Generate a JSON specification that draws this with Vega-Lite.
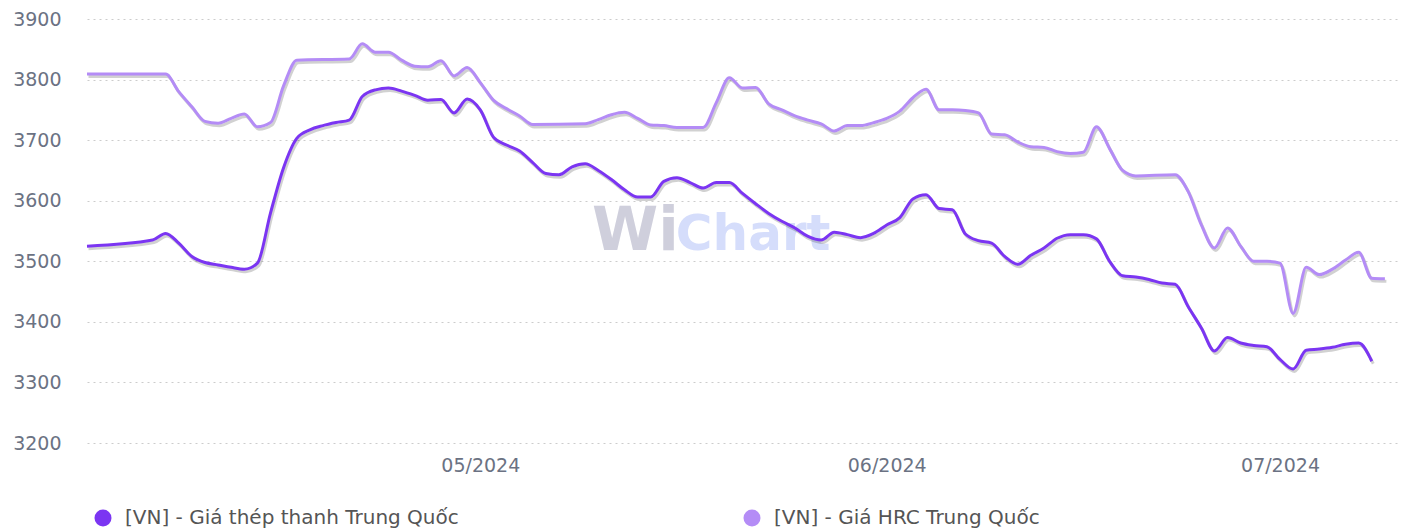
{
  "$schema": "https://vega.github.io/schema/vega-lite/v6.json",
  "width": 1311,
  "height": 424,
  "autosize": "none",
  "padding": {"left": 87, "top": 19, "right": 7, "bottom": 86},
  "background": "#ffffff",
  "config": {"view": {"stroke": null}},
  "datasets": {
    "wm1": [{"date": "2024-05-09T12:30:00Z", "value": 3519, "label": "Wi"}],
    "wm2": [{"date": "2024-05-15T22:00:00Z", "value": 3519, "label": "Chart"}],
    "prices": [
      {"date": "2024-04-01", "value": 3809, "series": "[VN] - Giá HRC Trung Quốc"},
      {"date": "2024-04-07", "value": 3809, "series": "[VN] - Giá HRC Trung Quốc"},
      {"date": "2024-04-08", "value": 3780, "series": "[VN] - Giá HRC Trung Quốc"},
      {"date": "2024-04-09", "value": 3755, "series": "[VN] - Giá HRC Trung Quốc"},
      {"date": "2024-04-10", "value": 3731, "series": "[VN] - Giá HRC Trung Quốc"},
      {"date": "2024-04-11", "value": 3728, "series": "[VN] - Giá HRC Trung Quốc"},
      {"date": "2024-04-12", "value": 3736, "series": "[VN] - Giá HRC Trung Quốc"},
      {"date": "2024-04-13", "value": 3743, "series": "[VN] - Giá HRC Trung Quốc"},
      {"date": "2024-04-14", "value": 3722, "series": "[VN] - Giá HRC Trung Quốc"},
      {"date": "2024-04-15", "value": 3729, "series": "[VN] - Giá HRC Trung Quốc"},
      {"date": "2024-04-16", "value": 3790, "series": "[VN] - Giá HRC Trung Quốc"},
      {"date": "2024-04-17", "value": 3832, "series": "[VN] - Giá HRC Trung Quốc"},
      {"date": "2024-04-21", "value": 3834, "series": "[VN] - Giá HRC Trung Quốc"},
      {"date": "2024-04-22", "value": 3859, "series": "[VN] - Giá HRC Trung Quốc"},
      {"date": "2024-04-23", "value": 3845, "series": "[VN] - Giá HRC Trung Quốc"},
      {"date": "2024-04-24", "value": 3845, "series": "[VN] - Giá HRC Trung Quốc"},
      {"date": "2024-04-25", "value": 3832, "series": "[VN] - Giá HRC Trung Quốc"},
      {"date": "2024-04-26", "value": 3822, "series": "[VN] - Giá HRC Trung Quốc"},
      {"date": "2024-04-27", "value": 3821, "series": "[VN] - Giá HRC Trung Quốc"},
      {"date": "2024-04-28", "value": 3831, "series": "[VN] - Giá HRC Trung Quốc"},
      {"date": "2024-04-29", "value": 3806, "series": "[VN] - Giá HRC Trung Quốc"},
      {"date": "2024-04-30", "value": 3820, "series": "[VN] - Giá HRC Trung Quốc"},
      {"date": "2024-05-01", "value": 3795, "series": "[VN] - Giá HRC Trung Quốc"},
      {"date": "2024-05-02", "value": 3766, "series": "[VN] - Giá HRC Trung Quốc"},
      {"date": "2024-05-03", "value": 3752, "series": "[VN] - Giá HRC Trung Quốc"},
      {"date": "2024-05-04", "value": 3740, "series": "[VN] - Giá HRC Trung Quốc"},
      {"date": "2024-05-05", "value": 3726, "series": "[VN] - Giá HRC Trung Quốc"},
      {"date": "2024-05-09", "value": 3727, "series": "[VN] - Giá HRC Trung Quốc"},
      {"date": "2024-05-10", "value": 3734, "series": "[VN] - Giá HRC Trung Quốc"},
      {"date": "2024-05-11", "value": 3742, "series": "[VN] - Giá HRC Trung Quốc"},
      {"date": "2024-05-12", "value": 3746, "series": "[VN] - Giá HRC Trung Quốc"},
      {"date": "2024-05-13", "value": 3736, "series": "[VN] - Giá HRC Trung Quốc"},
      {"date": "2024-05-14", "value": 3725, "series": "[VN] - Giá HRC Trung Quốc"},
      {"date": "2024-05-15", "value": 3724, "series": "[VN] - Giá HRC Trung Quốc"},
      {"date": "2024-05-16", "value": 3721, "series": "[VN] - Giá HRC Trung Quốc"},
      {"date": "2024-05-18", "value": 3721, "series": "[VN] - Giá HRC Trung Quốc"},
      {"date": "2024-05-19", "value": 3762, "series": "[VN] - Giá HRC Trung Quốc"},
      {"date": "2024-05-20", "value": 3803, "series": "[VN] - Giá HRC Trung Quốc"},
      {"date": "2024-05-21", "value": 3786, "series": "[VN] - Giá HRC Trung Quốc"},
      {"date": "2024-05-22", "value": 3787, "series": "[VN] - Giá HRC Trung Quốc"},
      {"date": "2024-05-23", "value": 3760, "series": "[VN] - Giá HRC Trung Quốc"},
      {"date": "2024-05-24", "value": 3750, "series": "[VN] - Giá HRC Trung Quốc"},
      {"date": "2024-05-25", "value": 3740, "series": "[VN] - Giá HRC Trung Quốc"},
      {"date": "2024-05-26", "value": 3733, "series": "[VN] - Giá HRC Trung Quốc"},
      {"date": "2024-05-27", "value": 3727, "series": "[VN] - Giá HRC Trung Quốc"},
      {"date": "2024-05-28", "value": 3715, "series": "[VN] - Giá HRC Trung Quốc"},
      {"date": "2024-05-29", "value": 3724, "series": "[VN] - Giá HRC Trung Quốc"},
      {"date": "2024-05-30", "value": 3724, "series": "[VN] - Giá HRC Trung Quốc"},
      {"date": "2024-05-31", "value": 3729, "series": "[VN] - Giá HRC Trung Quốc"},
      {"date": "2024-06-01", "value": 3736, "series": "[VN] - Giá HRC Trung Quốc"},
      {"date": "2024-06-02", "value": 3748, "series": "[VN] - Giá HRC Trung Quốc"},
      {"date": "2024-06-03", "value": 3770, "series": "[VN] - Giá HRC Trung Quốc"},
      {"date": "2024-06-04", "value": 3784, "series": "[VN] - Giá HRC Trung Quốc"},
      {"date": "2024-06-05", "value": 3750, "series": "[VN] - Giá HRC Trung Quốc"},
      {"date": "2024-06-06", "value": 3750, "series": "[VN] - Giá HRC Trung Quốc"},
      {"date": "2024-06-07", "value": 3749, "series": "[VN] - Giá HRC Trung Quốc"},
      {"date": "2024-06-08", "value": 3745, "series": "[VN] - Giá HRC Trung Quốc"},
      {"date": "2024-06-09", "value": 3710, "series": "[VN] - Giá HRC Trung Quốc"},
      {"date": "2024-06-10", "value": 3709, "series": "[VN] - Giá HRC Trung Quốc"},
      {"date": "2024-06-11", "value": 3697, "series": "[VN] - Giá HRC Trung Quốc"},
      {"date": "2024-06-12", "value": 3689, "series": "[VN] - Giá HRC Trung Quốc"},
      {"date": "2024-06-13", "value": 3688, "series": "[VN] - Giá HRC Trung Quốc"},
      {"date": "2024-06-14", "value": 3681, "series": "[VN] - Giá HRC Trung Quốc"},
      {"date": "2024-06-15", "value": 3678, "series": "[VN] - Giá HRC Trung Quốc"},
      {"date": "2024-06-16", "value": 3680, "series": "[VN] - Giá HRC Trung Quốc"},
      {"date": "2024-06-17", "value": 3722, "series": "[VN] - Giá HRC Trung Quốc"},
      {"date": "2024-06-18", "value": 3686, "series": "[VN] - Giá HRC Trung Quốc"},
      {"date": "2024-06-19", "value": 3650, "series": "[VN] - Giá HRC Trung Quốc"},
      {"date": "2024-06-20", "value": 3641, "series": "[VN] - Giá HRC Trung Quốc"},
      {"date": "2024-06-23", "value": 3643, "series": "[VN] - Giá HRC Trung Quốc"},
      {"date": "2024-06-24", "value": 3615, "series": "[VN] - Giá HRC Trung Quốc"},
      {"date": "2024-06-25", "value": 3560, "series": "[VN] - Giá HRC Trung Quốc"},
      {"date": "2024-06-26", "value": 3522, "series": "[VN] - Giá HRC Trung Quốc"},
      {"date": "2024-06-27", "value": 3555, "series": "[VN] - Giá HRC Trung Quốc"},
      {"date": "2024-06-28", "value": 3525, "series": "[VN] - Giá HRC Trung Quốc"},
      {"date": "2024-06-29", "value": 3500, "series": "[VN] - Giá HRC Trung Quốc"},
      {"date": "2024-06-30", "value": 3500, "series": "[VN] - Giá HRC Trung Quốc"},
      {"date": "2024-07-01", "value": 3497, "series": "[VN] - Giá HRC Trung Quốc"},
      {"date": "2024-07-02", "value": 3414, "series": "[VN] - Giá HRC Trung Quốc"},
      {"date": "2024-07-03", "value": 3490, "series": "[VN] - Giá HRC Trung Quốc"},
      {"date": "2024-07-04", "value": 3478, "series": "[VN] - Giá HRC Trung Quốc"},
      {"date": "2024-07-05", "value": 3487, "series": "[VN] - Giá HRC Trung Quốc"},
      {"date": "2024-07-06", "value": 3502, "series": "[VN] - Giá HRC Trung Quốc"},
      {"date": "2024-07-07", "value": 3515, "series": "[VN] - Giá HRC Trung Quốc"},
      {"date": "2024-07-08", "value": 3472, "series": "[VN] - Giá HRC Trung Quốc"},
      {"date": "2024-07-09", "value": 3471, "series": "[VN] - Giá HRC Trung Quốc"},
      {"date": "2024-04-01", "value": 3525, "series": "[VN] - Giá thép thanh Trung Quốc"},
      {"date": "2024-04-06", "value": 3535, "series": "[VN] - Giá thép thanh Trung Quốc"},
      {"date": "2024-04-07", "value": 3546, "series": "[VN] - Giá thép thanh Trung Quốc"},
      {"date": "2024-04-08", "value": 3530, "series": "[VN] - Giá thép thanh Trung Quốc"},
      {"date": "2024-04-09", "value": 3508, "series": "[VN] - Giá thép thanh Trung Quốc"},
      {"date": "2024-04-10", "value": 3498, "series": "[VN] - Giá thép thanh Trung Quốc"},
      {"date": "2024-04-11", "value": 3494, "series": "[VN] - Giá thép thanh Trung Quốc"},
      {"date": "2024-04-12", "value": 3490, "series": "[VN] - Giá thép thanh Trung Quốc"},
      {"date": "2024-04-13", "value": 3487, "series": "[VN] - Giá thép thanh Trung Quốc"},
      {"date": "2024-04-14", "value": 3497, "series": "[VN] - Giá thép thanh Trung Quốc"},
      {"date": "2024-04-15", "value": 3580, "series": "[VN] - Giá thép thanh Trung Quốc"},
      {"date": "2024-04-16", "value": 3655, "series": "[VN] - Giá thép thanh Trung Quốc"},
      {"date": "2024-04-17", "value": 3703, "series": "[VN] - Giá thép thanh Trung Quốc"},
      {"date": "2024-04-18", "value": 3717, "series": "[VN] - Giá thép thanh Trung Quốc"},
      {"date": "2024-04-19", "value": 3724, "series": "[VN] - Giá thép thanh Trung Quốc"},
      {"date": "2024-04-20", "value": 3729, "series": "[VN] - Giá thép thanh Trung Quốc"},
      {"date": "2024-04-21", "value": 3733, "series": "[VN] - Giá thép thanh Trung Quốc"},
      {"date": "2024-04-22", "value": 3772, "series": "[VN] - Giá thép thanh Trung Quốc"},
      {"date": "2024-04-23", "value": 3783, "series": "[VN] - Giá thép thanh Trung Quốc"},
      {"date": "2024-04-24", "value": 3786, "series": "[VN] - Giá thép thanh Trung Quốc"},
      {"date": "2024-04-25", "value": 3781, "series": "[VN] - Giá thép thanh Trung Quốc"},
      {"date": "2024-04-26", "value": 3774, "series": "[VN] - Giá thép thanh Trung Quốc"},
      {"date": "2024-04-27", "value": 3766, "series": "[VN] - Giá thép thanh Trung Quốc"},
      {"date": "2024-04-28", "value": 3767, "series": "[VN] - Giá thép thanh Trung Quốc"},
      {"date": "2024-04-29", "value": 3745, "series": "[VN] - Giá thép thanh Trung Quốc"},
      {"date": "2024-04-30", "value": 3768, "series": "[VN] - Giá thép thanh Trung Quốc"},
      {"date": "2024-05-01", "value": 3750, "series": "[VN] - Giá thép thanh Trung Quốc"},
      {"date": "2024-05-02", "value": 3705, "series": "[VN] - Giá thép thanh Trung Quốc"},
      {"date": "2024-05-03", "value": 3692, "series": "[VN] - Giá thép thanh Trung Quốc"},
      {"date": "2024-05-04", "value": 3682, "series": "[VN] - Giá thép thanh Trung Quốc"},
      {"date": "2024-05-05", "value": 3663, "series": "[VN] - Giá thép thanh Trung Quốc"},
      {"date": "2024-05-06", "value": 3645, "series": "[VN] - Giá thép thanh Trung Quốc"},
      {"date": "2024-05-07", "value": 3643, "series": "[VN] - Giá thép thanh Trung Quốc"},
      {"date": "2024-05-08", "value": 3656, "series": "[VN] - Giá thép thanh Trung Quốc"},
      {"date": "2024-05-09", "value": 3661, "series": "[VN] - Giá thép thanh Trung Quốc"},
      {"date": "2024-05-10", "value": 3650, "series": "[VN] - Giá thép thanh Trung Quốc"},
      {"date": "2024-05-11", "value": 3635, "series": "[VN] - Giá thép thanh Trung Quốc"},
      {"date": "2024-05-12", "value": 3618, "series": "[VN] - Giá thép thanh Trung Quốc"},
      {"date": "2024-05-13", "value": 3606, "series": "[VN] - Giá thép thanh Trung Quốc"},
      {"date": "2024-05-14", "value": 3606, "series": "[VN] - Giá thép thanh Trung Quốc"},
      {"date": "2024-05-15", "value": 3632, "series": "[VN] - Giá thép thanh Trung Quốc"},
      {"date": "2024-05-16", "value": 3638, "series": "[VN] - Giá thép thanh Trung Quốc"},
      {"date": "2024-05-17", "value": 3630, "series": "[VN] - Giá thép thanh Trung Quốc"},
      {"date": "2024-05-18", "value": 3621, "series": "[VN] - Giá thép thanh Trung Quốc"},
      {"date": "2024-05-19", "value": 3630, "series": "[VN] - Giá thép thanh Trung Quốc"},
      {"date": "2024-05-20", "value": 3630, "series": "[VN] - Giá thép thanh Trung Quốc"},
      {"date": "2024-05-21", "value": 3612, "series": "[VN] - Giá thép thanh Trung Quốc"},
      {"date": "2024-05-22", "value": 3595, "series": "[VN] - Giá thép thanh Trung Quốc"},
      {"date": "2024-05-23", "value": 3579, "series": "[VN] - Giá thép thanh Trung Quốc"},
      {"date": "2024-05-24", "value": 3566, "series": "[VN] - Giá thép thanh Trung Quốc"},
      {"date": "2024-05-25", "value": 3555, "series": "[VN] - Giá thép thanh Trung Quốc"},
      {"date": "2024-05-26", "value": 3541, "series": "[VN] - Giá thép thanh Trung Quốc"},
      {"date": "2024-05-27", "value": 3535, "series": "[VN] - Giá thép thanh Trung Quốc"},
      {"date": "2024-05-28", "value": 3548, "series": "[VN] - Giá thép thanh Trung Quốc"},
      {"date": "2024-05-29", "value": 3544, "series": "[VN] - Giá thép thanh Trung Quốc"},
      {"date": "2024-05-30", "value": 3539, "series": "[VN] - Giá thép thanh Trung Quốc"},
      {"date": "2024-05-31", "value": 3546, "series": "[VN] - Giá thép thanh Trung Quốc"},
      {"date": "2024-06-01", "value": 3560, "series": "[VN] - Giá thép thanh Trung Quốc"},
      {"date": "2024-06-02", "value": 3572, "series": "[VN] - Giá thép thanh Trung Quốc"},
      {"date": "2024-06-03", "value": 3603, "series": "[VN] - Giá thép thanh Trung Quốc"},
      {"date": "2024-06-04", "value": 3610, "series": "[VN] - Giá thép thanh Trung Quốc"},
      {"date": "2024-06-05", "value": 3587, "series": "[VN] - Giá thép thanh Trung Quốc"},
      {"date": "2024-06-06", "value": 3585, "series": "[VN] - Giá thép thanh Trung Quốc"},
      {"date": "2024-06-07", "value": 3545, "series": "[VN] - Giá thép thanh Trung Quốc"},
      {"date": "2024-06-08", "value": 3534, "series": "[VN] - Giá thép thanh Trung Quốc"},
      {"date": "2024-06-09", "value": 3530, "series": "[VN] - Giá thép thanh Trung Quốc"},
      {"date": "2024-06-10", "value": 3508, "series": "[VN] - Giá thép thanh Trung Quốc"},
      {"date": "2024-06-11", "value": 3495, "series": "[VN] - Giá thép thanh Trung Quốc"},
      {"date": "2024-06-12", "value": 3510, "series": "[VN] - Giá thép thanh Trung Quốc"},
      {"date": "2024-06-13", "value": 3522, "series": "[VN] - Giá thép thanh Trung Quốc"},
      {"date": "2024-06-14", "value": 3538, "series": "[VN] - Giá thép thanh Trung Quốc"},
      {"date": "2024-06-15", "value": 3544, "series": "[VN] - Giá thép thanh Trung Quốc"},
      {"date": "2024-06-16", "value": 3544, "series": "[VN] - Giá thép thanh Trung Quốc"},
      {"date": "2024-06-17", "value": 3537, "series": "[VN] - Giá thép thanh Trung Quốc"},
      {"date": "2024-06-18", "value": 3500, "series": "[VN] - Giá thép thanh Trung Quốc"},
      {"date": "2024-06-19", "value": 3476, "series": "[VN] - Giá thép thanh Trung Quốc"},
      {"date": "2024-06-20", "value": 3474, "series": "[VN] - Giá thép thanh Trung Quốc"},
      {"date": "2024-06-21", "value": 3470, "series": "[VN] - Giá thép thanh Trung Quốc"},
      {"date": "2024-06-22", "value": 3464, "series": "[VN] - Giá thép thanh Trung Quốc"},
      {"date": "2024-06-23", "value": 3462, "series": "[VN] - Giá thép thanh Trung Quốc"},
      {"date": "2024-06-24", "value": 3425, "series": "[VN] - Giá thép thanh Trung Quốc"},
      {"date": "2024-06-25", "value": 3390, "series": "[VN] - Giá thép thanh Trung Quốc"},
      {"date": "2024-06-26", "value": 3352, "series": "[VN] - Giá thép thanh Trung Quốc"},
      {"date": "2024-06-27", "value": 3374, "series": "[VN] - Giá thép thanh Trung Quốc"},
      {"date": "2024-06-28", "value": 3365, "series": "[VN] - Giá thép thanh Trung Quốc"},
      {"date": "2024-06-29", "value": 3361, "series": "[VN] - Giá thép thanh Trung Quốc"},
      {"date": "2024-06-30", "value": 3359, "series": "[VN] - Giá thép thanh Trung Quốc"},
      {"date": "2024-07-01", "value": 3338, "series": "[VN] - Giá thép thanh Trung Quốc"},
      {"date": "2024-07-02", "value": 3322, "series": "[VN] - Giá thép thanh Trung Quốc"},
      {"date": "2024-07-03", "value": 3353, "series": "[VN] - Giá thép thanh Trung Quốc"},
      {"date": "2024-07-04", "value": 3355, "series": "[VN] - Giá thép thanh Trung Quốc"},
      {"date": "2024-07-05", "value": 3358, "series": "[VN] - Giá thép thanh Trung Quốc"},
      {"date": "2024-07-06", "value": 3363, "series": "[VN] - Giá thép thanh Trung Quốc"},
      {"date": "2024-07-07", "value": 3365, "series": "[VN] - Giá thép thanh Trung Quốc"},
      {"date": "2024-07-08", "value": 3335, "series": "[VN] - Giá thép thanh Trung Quốc"}
    ]
  },
  "encoding": {
    "x": {
      "field": "date",
      "type": "temporal",
      "scale": {
        "type": "utc",
        "domain": [
          {"year": 2024, "month": 4, "date": 1, "utc": true},
          {"year": 2024, "month": 7, "date": 10, "utc": true}
        ]
      },
      "axis": {
        "values": [
          {"year": 2024, "month": 5, "date": 1, "utc": true},
          {"year": 2024, "month": 6, "date": 1, "utc": true},
          {"year": 2024, "month": 7, "date": 1, "utc": true}
        ],
        "labelExpr": "utcFormat(datum.value, '%m/%Y')",
        "title": null,
        "grid": false,
        "domain": false,
        "ticks": false,
        "labelFont": "DejaVu Sans",
        "labelFontSize": 19,
        "labelColor": "#6b7283",
        "labelPadding": 13
      }
    },
    "y": {
      "field": "value",
      "type": "quantitative",
      "scale": {"domain": [3200, 3900], "nice": false, "zero": false},
      "axis": {
        "values": [3200, 3300, 3400, 3500, 3600, 3700, 3800, 3900],
        "format": "d",
        "title": null,
        "grid": true,
        "gridDash": [2, 4],
        "gridColor": "#cccccc",
        "gridWidth": 1,
        "domain": false,
        "ticks": false,
        "labelFont": "DejaVu Sans",
        "labelFontSize": 19,
        "labelColor": "#6b7283",
        "labelPadding": 26
      }
    }
  },
  "layer": [
    {
      "data": {"name": "wm1"},
      "mark": {"type": "text", "align": "left", "baseline": "alphabetic", "font": "DejaVu Sans", "fontWeight": "bold", "fontSize": 60, "color": "#cfcfdc"},
      "encoding": {"text": {"field": "label"}}
    },
    {
      "data": {"name": "wm2"},
      "mark": {"type": "text", "align": "left", "baseline": "alphabetic", "font": "DejaVu Sans", "fontWeight": "bold", "fontSize": 50, "color": "#d5ddfb"},
      "encoding": {"text": {"field": "label"}}
    },
    {
      "data": {"name": "prices"},
      "mark": {"type": "line", "interpolate": "monotone", "color": "#000000", "opacity": 0.18, "strokeWidth": 3, "xOffset": 1.5, "yOffset": 2.5},
      "encoding": {"detail": {"field": "series"}}
    },
    {
      "data": {"name": "prices"},
      "mark": {"type": "line", "interpolate": "monotone", "strokeWidth": 3},
      "encoding": {
        "color": {
          "field": "series",
          "type": "nominal",
          "scale": {
            "domain": ["[VN] - Giá thép thanh Trung Quốc", "[VN] - Giá HRC Trung Quốc"],
            "range": ["#7b35f2", "#b48cf6"]
          },
          "legend": {
            "title": null,
            "orient": "none",
            "legendX": 6,
            "legendY": 489,
            "direction": "horizontal",
            "columnPadding": 283,
            "padding": 0,
            "symbolType": "circle",
            "symbolSize": 289,
            "symbolStrokeWidth": 0,
            "labelFont": "DejaVu Sans",
            "labelFontSize": 20,
            "labelColor": "#555555",
            "labelOffset": 12,
            "labelLimit": 600,
            "encode": {
              "symbols": {
                "update": {
                  "fill": {"scale": "color", "field": "value"},
                  "stroke": {"value": "transparent"},
                  "opacity": {"value": 1}
                }
              }
            }
          }
        }
      }
    }
  ]
}
